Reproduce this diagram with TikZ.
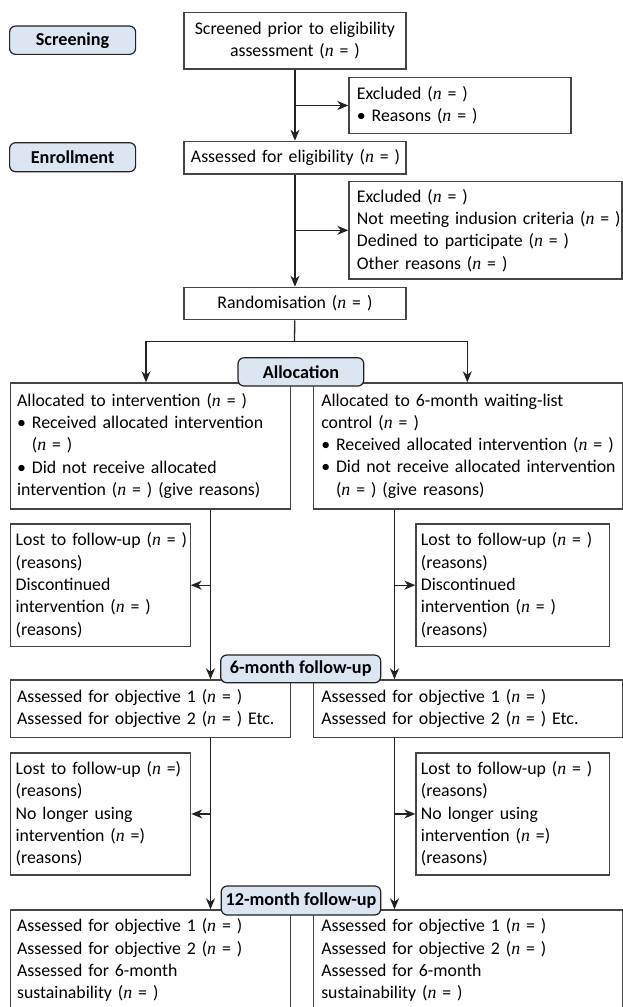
\documentclass[tikz,border=0pt]{standalone}
\usepackage{fontspec}
\setmainfont{Carlito}
\newfontfamily\nfont{Liberation Serif}
\usepackage{tikz}
\usetikzlibrary{arrows.meta}
\definecolor{stagefill}{HTML}{DCE6F2}
\definecolor{boxline}{HTML}{454545}
\definecolor{flowline}{HTML}{222222}
\newcommand\nn{{\nfont\itshape n}}

\begin{document}
\begin{tikzpicture}[x=1pt, y=-1pt,
  every node/.style={font=\fontsize{17.8pt}{22.3pt}\selectfont},
  box/.style={draw=boxline, line width=1.3pt, anchor=north west, align=left, inner xsep=7pt, inner ysep=0pt},
  stage/.style={draw=flowline, line width=1.2pt, rounded corners=6pt, fill=stagefill, inner sep=0pt,
    font=\fontsize{18.2pt}{22.3pt}\selectfont\bfseries},
  flow/.style={draw=flowline, line width=1.3pt, -{Stealth[length=11pt,width=9pt,inset=3.5pt]}}]

\useasboundingbox (0,0) rectangle (622,1007);

% enrollment part
\node[box, align=center, text width=208pt, minimum height=56.3pt] (screened) at (183.3,12) {\mbox{Screened prior to eligibility}\\assessment (\nn{} = )};
\node[box, text width=206pt, inner xsep=8pt, minimum height=56.3pt] (excl1) at (348.3,76.7) {Excluded (\nn{} = )\\• Reasons (\nn{} = )};
\node[box, align=center, text width=208pt, minimum height=32.6pt] (assessed) at (183.3,140.7) {\mbox{Assessed for eligibility (\nn{} = )}};
\node[box, text width=257pt, inner xsep=8pt, minimum height=97.3pt] (excl2) at (348.3,181) {Excluded (\nn{} = )\\\mbox{Not meeting indusion criteria (\nn{} = )}\\Dedined to participate (\nn{} = )\\Other reasons (\nn{} = )};
\node[box, align=center, text width=208pt, minimum height=32.3pt] (random) at (183.3,286.7) {Randomisation (\nn{} = )};

% allocation
\node[box, text width=266pt, minimum height=126pt] (allocL) at (9.5,382.3) {Allocated to intervention (\nn{} = )\\\mbox{• Received allocated intervention}\\\hphantom{•}\ (\nn{} = )\\• Did not receive allocated\\\mbox{intervention (\nn{} = ) (give reasons)}};
\node[box, text width=293pt, inner xsep=8pt, minimum height=126pt] (allocR) at (312.6,382.3) {Allocated to 6-month waiting-list\\control (\nn{} = )\\\mbox{• Received allocated intervention (\nn{} = )}\\\mbox{• Did not receive allocated intervention}\\\hphantom{•}\ (\nn{} = ) (give reasons)};
\node[box, text width=169pt, inner xsep=5.5pt, minimum height=122.4pt] (lostL) at (9.5,523.3) {\mbox{Lost to follow-up (\nn{} = )}\\(reasons)\\Discontinued\\intervention (\nn{} = )\\(reasons)};
\node[box, text width=183.6pt, inner xsep=5pt, minimum height=122.4pt] (lostR) at (415.3,523.3) {\mbox{Lost to follow-up (\nn{} = )}\\(reasons)\\Discontinued\\intervention (\nn{} = )\\(reasons)};

% 6-month follow-up
\node[box, text width=266pt, minimum height=57.4pt] (sixL) at (9.5,679.3) {Assessed for objective 1 (\nn{} = )\\\mbox{Assessed for objective 2 (\nn{} = ) Etc.}};
\node[box, text width=293pt, inner xsep=8pt, minimum height=57.4pt] (sixR) at (312.6,679.3) {Assessed for objective 1 (\nn{} = )\\\mbox{Assessed for objective 2 (\nn{} = ) Etc.}};
\node[box, text width=169.5pt, inner xsep=5.5pt, minimum height=122pt] (lostsixL) at (9.5,752.3) {\mbox{Lost to follow-up (\nn{} =)}\\(reasons)\\No longer using\\intervention (\nn{} =)\\(reasons)};
\node[box, text width=183.6pt, inner xsep=5pt, minimum height=122pt] (lostsixR) at (415.3,752.3) {\mbox{Lost to follow-up (\nn{} = )}\\(reasons)\\No longer using\\intervention (\nn{} =)\\(reasons)};

% 12-month follow-up
\node[box, inner ysep=9pt, text width=266pt] (twelveL) at (9.5,909.3) {Assessed for objective 1 (\nn{} = )\\Assessed for objective 2 (\nn{} = )\\Assessed for 6-month\\sustainability (\nn{} = )};
\node[box, inner ysep=9pt, text width=293pt, inner xsep=8pt] (twelveR) at (312.6,909.3) {Assessed for objective 1 (\nn{} = )\\Assessed for objective 2 (\nn{} = )\\Assessed for 6-month\\sustainability (\nn{} = )};

\coordinate (split) at (294.5,341.7);
\coordinate (splitL) at (146,341.7);
\coordinate (splitR) at (467.3,341.7);
\coordinate (colL) at (210.5,0);
\coordinate (colR) at (394.5,0);

\draw[flow] (screened) -- (assessed); %main line
\draw[flow] (screened.south |- excl1.west) -- (excl1.west); %excluded 1
\draw[flow] (assessed) -- (random);
\draw[flow] (assessed.south |- excl2.west) -- (excl2.west); %excluded 2
\draw[draw=flowline, line width=1.3pt] (random) -- (split);
\draw[flow] (split) -- (splitL) -- (splitL |- allocL.north); %left arm
\draw[flow] (split) -- (splitR) -- (splitR |- allocR.north); %right arm
\draw[flow] (allocL.south -| colL) -- (sixL.north -| colL);
\draw[flow] (colL |- lostL.east) -- (lostL.east);
\draw[flow] (allocR.south -| colR) -- (sixR.north -| colR);
\draw[flow] (colR |- lostR.west) -- (lostR.west);
\draw[flow] (sixL.south -| colL) -- (twelveL.north -| colL);
\draw[flow] (colL |- lostsixL.east) -- (lostsixL.east);
\draw[flow] (sixR.south -| colR) -- (twelveR.north -| colR);
\draw[flow] (colR |- lostsixR.west) -- (lostsixR.west);

% stage labels
\node[stage, minimum width=126pt, minimum height=28.3pt] (screening) at (72.6,40.2) {Screening};
\node[stage, minimum width=126pt, minimum height=29pt] (enrollment) at (72.6,157.2) {Enrollment};
\node[stage, minimum width=125.7pt, minimum height=28.3pt] (allocation) at (300.9,371.9) {Allocation};
\node[stage, minimum width=160pt, minimum height=27.7pt] (sixmonth) at (300.7,668.9) {6-month follow-up};
\node[stage, minimum width=159.5pt, minimum height=29pt] (twelvemonth) at (301,900.5) {12-month follow-up};
\end{tikzpicture}
\end{document}
